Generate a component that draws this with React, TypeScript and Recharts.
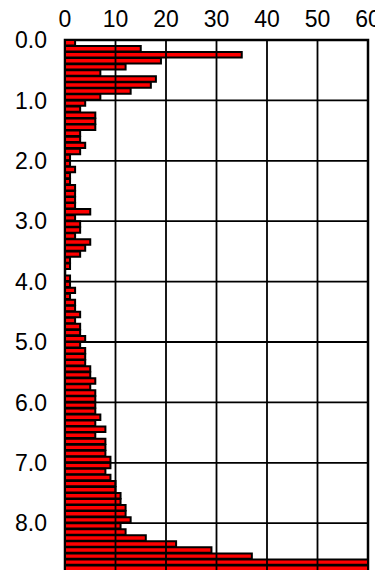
import React from 'react';
import {
  BarChart,
  Bar,
  XAxis,
  YAxis,
  ReferenceLine,
  ReferenceArea,
} from 'recharts';

// counts per 0.1 depth bin, from 0.0 down to 8.8
const counts = [
  2, 15, 35, 19, 12, 7, 18, 17, 13, 7,
  4, 3, 6, 6, 6, 3, 3, 4, 3, 1,
  1, 2, 1, 1, 2, 2, 2, 2, 5, 2,
  3, 3, 2, 5, 4, 3, 1, 1, 0, 1,
  1, 2, 1, 2, 2, 3, 2, 3, 3, 4,
  3, 4, 4, 4, 5, 5, 6, 5, 6, 6,
  6, 6, 7, 6, 8, 6, 8, 8, 8, 9,
  9, 8, 9, 10, 10, 11, 11, 12, 12, 13,
  11, 12, 16, 22, 29, 37, 60, 60,
];

const binWidth = 0.1;
const depthMax = 8.8;
const xTicks = [0, 10, 20, 30, 40, 50, 60];
const yTicks = [0, 1, 2, 3, 4, 5, 6, 7, 8];

const rows = counts.map((c, i) => ({ mid: (i + 0.5) * binWidth, count: c }));

// svg is pulled up over the body margin so the top labels stay inside it
const W = 375;
const H = 578;
const M = { top: 8, right: 15, left: 0, bottom: 6.5 };
const X_AXIS_H = 32;
const Y_AXIS_W = 57;
const plotH = H - M.top - M.bottom - X_AXIS_H;

const font = { fill: '#000', fontSize: 23, fontFamily: '"Liberation Sans", Arial, sans-serif' };

export default function App() {
  return (
    <div style={{ marginTop: -8 }}>
      <BarChart
        width={W}
        height={H}
        data={rows}
        layout="vertical"
        margin={M}
        barCategoryGap={0}
        barGap={0}
      >
        <XAxis
          type="number"
          orientation="top"
          domain={[0, 60]}
          ticks={xTicks}
          height={X_AXIS_H}
          axisLine={false}
          tickLine={false}
          tickSize={0}
          tickMargin={13}
          tick={font}
          interval={0}
        />
        <YAxis
          type="number"
          dataKey="mid"
          domain={[0, depthMax]}
          ticks={yTicks}
          width={Y_AXIS_W}
          axisLine={false}
          tickLine={false}
          tickSize={0}
          tickMargin={18}
          tick={font}
          interval={0}
          tickFormatter={(v: number) => v.toFixed(1)}
        />
        <Bar
          dataKey="count"
          fill="#ff0000"
          stroke="#000"
          strokeWidth={2}
          barSize={(plotH * binWidth) / depthMax}
          isAnimationActive={false}
        />
        {xTicks.slice(1, -1).map((t) => (
          <ReferenceLine key={'x' + t} x={t} stroke="#000" strokeWidth={1.8} />
        ))}
        {yTicks.slice(1).map((t) => (
          <ReferenceLine key={'y' + t} y={t} stroke="#000" strokeWidth={1.8} />
        ))}
        <ReferenceArea
          x1={0}
          x2={60}
          y1={0}
          y2={depthMax}
          fill="none"
          fillOpacity={0}
          stroke="#000"
          strokeWidth={2.5}
        />
      </BarChart>
    </div>
  );
}
